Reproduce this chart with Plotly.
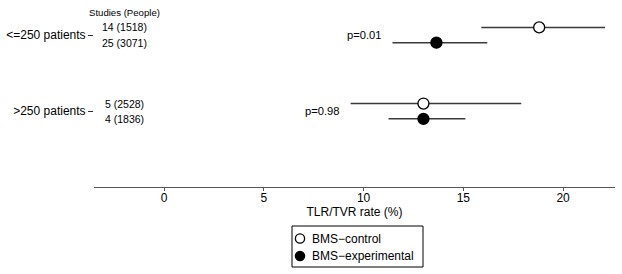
import plotly.graph_objects as go

groups = ["<=250 patients", ">250 patients"]
group_pos = [2, 1]

control_est = [18.8, 13.0]
control_lo = [15.9, 9.35]
control_hi = [22.1, 17.9]
control_counts = ["14 (1518)", "5 (2528)"]

exp_est = [13.65, 13.0]
exp_lo = [11.45, 11.25]
exp_hi = [16.2, 15.1]
exp_counts = ["25 (3071)", "4 (1836)"]

p_values = ["p=0.01", "p=0.98"]

xticks = [0, 5, 10, 15, 20]

series_names = ["BMS\u2212control", "BMS\u2212experimental"]
series_fill = ["white", "black"]

OFF = 0.1
FONT = "Liberation Sans, Arial, sans-serif"
LINE_COL = "#3a3a3a"

# plot-area geometry (pixels) for paper-coordinate helpers
W, H = 622, 274
ML, MR, MT, MB = 94, 7, 0, 87
PW, PH = W - ML - MR, H - MT - MB


def px(x):
    return (x - ML) / PW


def py(y):
    return (H - MB - y) / PH


y_ctrl = [g + OFF for g in group_pos]
y_exp = [g - OFF for g in group_pos]

fig = go.Figure()


def ci_xy(lo, hi, ys):
    xs, yy = [], []
    for a, b, y in zip(lo, hi, ys):
        xs += [a, b, None]
        yy += [y, y, None]
    return xs, yy


cx, cy = ci_xy(control_lo, control_hi, y_ctrl)
ex, ey = ci_xy(exp_lo, exp_hi, y_exp)
fig.add_trace(go.Scatter(x=cx, y=cy, mode="lines", line=dict(color=LINE_COL, width=1.5),
                         showlegend=False, hoverinfo="skip"))
fig.add_trace(go.Scatter(x=ex, y=ey, mode="lines", line=dict(color=LINE_COL, width=1.5),
                         showlegend=False, hoverinfo="skip"))

fig.add_trace(go.Scatter(x=control_est, y=y_ctrl, mode="markers", name=series_names[0],
                         showlegend=False,
                         marker=dict(symbol="circle", size=11, color=series_fill[0],
                                     line=dict(color="black", width=1.3))))
fig.add_trace(go.Scatter(x=exp_est, y=y_exp, mode="markers", name=series_names[1],
                         showlegend=False,
                         marker=dict(symbol="circle", size=11, color=series_fill[1],
                                     line=dict(color="black", width=1.3))))

CF = 10.5
annotations = []
annotations.append(dict(text="Studies (People)", xref="paper", yref="y", x=0, xshift=30.5,
                        y=group_pos[0] + 0.30, xanchor="center", yanchor="middle",
                        showarrow=False, font=dict(size=9.6, color="black", family=FONT)))
for i, g in enumerate(group_pos):
    annotations.append(dict(text=control_counts[i], xref="paper", yref="y", x=0, xshift=30.5,
                            y=y_ctrl[i], xanchor="center", yanchor="middle", showarrow=False,
                            font=dict(size=CF, color="black", family=FONT)))
    annotations.append(dict(text=exp_counts[i], xref="paper", yref="y", x=0, xshift=30.5,
                            y=y_exp[i], xanchor="center", yanchor="middle", showarrow=False,
                            font=dict(size=CF, color="black", family=FONT)))
    annotations.append(dict(text=p_values[i], xref="x", yref="y",
                            x=min(control_lo[i], exp_lo[i]), xshift=-8.5,
                            y=g, xanchor="right", yanchor="middle", showarrow=False,
                            font=dict(size=11.2, color="black", family=FONT)))

# hand-drawn legend box (layout positions in pixels)
shapes = [dict(type="rect", xref="paper", yref="paper",
               x0=px(292), x1=px(423), y0=py(226), y1=py(267),
               line=dict(color="black", width=1), fillcolor="white", layer="above")]
legend_rows = [238.5, 256]
for name, fill, ry in zip(series_names, series_fill, legend_rows):
    shapes.append(dict(type="circle", xref="paper", yref="paper",
                       xsizemode="pixel", ysizemode="pixel",
                       xanchor=px(300), yanchor=py(ry),
                       x0=-4.6, x1=4.6, y0=-4.6, y1=4.6,
                       line=dict(color="black", width=1.3), fillcolor=fill, layer="above"))
    annotations.append(dict(text=name, xref="paper", yref="paper", x=px(310), y=py(ry),
                            xanchor="left", yanchor="middle", showarrow=False,
                            font=dict(size=12, color="black", family=FONT)))

fig.update_layout(
    width=W, height=H,
    margin=dict(l=ML, r=MR, t=MT, b=MB, autoexpand=False),
    paper_bgcolor="white", plot_bgcolor="white",
    font=dict(family=FONT, size=12, color="black"),
    annotations=annotations,
    shapes=shapes,
    showlegend=False,
    xaxis=dict(range=[-3.51, 22.6], tickvals=xticks, ticktext=[str(t) for t in xticks],
               showline=True, linecolor="#555", linewidth=1, ticks="outside", ticklen=3,
               tickcolor="#555", showgrid=False, zeroline=False, automargin=False,
               ticklabelstandoff=-3,
               title=dict(text="TLR/TVR rate (%)", standoff=0, font=dict(size=12)),
               tickfont=dict(size=12)),
    yaxis=dict(range=[0.004, 2.46], tickvals=group_pos, ticktext=groups,
               showline=False, ticks="outside", ticklen=5, tickcolor="#333",
               showgrid=False, zeroline=False, automargin=False, tickfont=dict(size=12)),
)

fig.write_html("out.html", config={"displayModeBar": False},
               post_script="document.body.style.margin='0px';")
